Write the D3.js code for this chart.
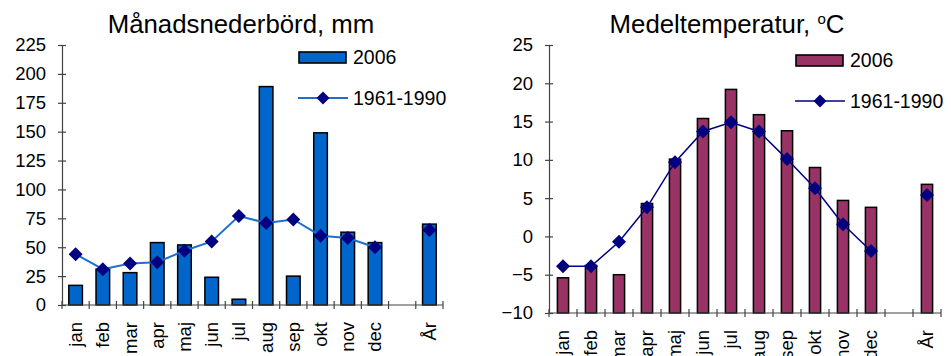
<!DOCTYPE html>
<html>
<head>
<meta charset="utf-8">
<script src="https://cdn.jsdelivr.net/npm/d3@7/dist/d3.min.js"></script>
<style>
  html, body { margin: 0; padding: 0; background: #fff; }
  svg { display: block; font-family: Arial, "Liberation Sans", sans-serif; }
</style>
</head>
<body>
<svg id="chart" width="951" height="356"></svg>
<script>
// Months plus a blank slot and the annual value ("År")
const categories = ["jan", "feb", "mar", "apr", "maj", "jun", "jul", "aug", "sep", "okt", "nov", "dec", "", "År"];

// Monthly precipitation, mm
const precip2006   = [17, 31, 28, 54, 52, 24, 5, 189, 25, 149, 63, 54, null, 70];
const precipNormal = [44, 31, 36, 37, 47, 55, 77, 71, 74, 60, 58, 50, null, 65];
const precipTicks  = [0, 25, 50, 75, 100, 125, 150, 175, 200, 225];

// Mean temperature, °C
const temp2006   = [-5.4, -3.8, -5.0, 4.3, 10.1, 15.4, 19.2, 15.9, 13.8, 9.0, 4.7, 3.8, null, 6.8];
const tempNormal = [-3.9, -3.9, -0.7, 3.8, 9.7, 13.7, 14.9, 13.7, 10.1, 6.3, 1.6, -1.9, null, 5.4];
const tempTicks  = [-10, -5, 0, 5, 10, 15, 20, 25];

const seriesNames = ["2006", "1961-1990"];

const svg = d3.select("#chart");

// Square diamond marker, half-diagonal r
function diamondPath(r) {
  return `M0,${-r}L${r},0L0,${r}L${-r},0Z`;
}

function drawPanel(opt) {
  const g = svg.append("g");
  const idx = d3.range(categories.length);

  const x = d3.scaleBand().domain(idx).range([opt.x0, opt.x1]).paddingInner(0).paddingOuter(0);
  const y = d3.scaleLinear().domain(opt.domain).range([opt.yBottom, opt.yTop]);
  const base = opt.domain[0];

  // Title
  const title = g.append("text")
    .attr("x", opt.titleX).attr("y", 33)
    .attr("text-anchor", "middle")
    .attr("font-size", 25.8)
    .attr("fill", "#000");
  title.append("tspan").text(opt.title);
  if (opt.titleSup) {
    title.append("tspan").attr("font-size", 15).attr("dy", -9).text(opt.titleSup);
    title.append("tspan").attr("dy", 9).text(opt.titleTail);
  }

  // Y axis with ticks crossing the axis line
  const yAxis = d3.axisLeft(y).tickValues(opt.ticks).tickSize(4).tickPadding(12);
  const ya = g.append("g").attr("transform", `translate(${opt.x0},0)`).call(yAxis);
  ya.select(".domain").attr("stroke", "#444").attr("stroke-width", 1.2);
  ya.selectAll(".tick line").attr("x1", 4).attr("stroke", "#444").attr("stroke-width", 1.2);
  ya.selectAll(".tick text")
    .attr("font-size", 18.5).attr("fill", "#000")
    .attr("font-family", "Arial, 'Liberation Sans', sans-serif");

  // Bars
  g.append("g").selectAll("rect")
    .data(idx.filter(i => opt.bars[i] != null))
    .join("rect")
    .attr("x", i => x(i) + (x.bandwidth() - x.bandwidth() * opt.barFrac) / 2)
    .attr("width", x.bandwidth() * opt.barFrac)
    .attr("y", i => y(opt.bars[i]))
    .attr("height", i => y(base) - y(opt.bars[i]))
    .attr("fill", opt.barColor)
    .attr("stroke", "#000")
    .attr("stroke-width", 1.5);

  // X axis with tick marks on category boundaries
  const xa = g.append("g");
  xa.append("line")
    .attr("x1", opt.x0).attr("x2", opt.x1)
    .attr("y1", y(base)).attr("y2", y(base))
    .attr("stroke", "#444").attr("stroke-width", 1.2);
  xa.selectAll("line.tk")
    .data(d3.range(categories.length + 1))
    .join("line").attr("class", "tk")
    .attr("x1", i => opt.x0 + i * x.step()).attr("x2", i => opt.x0 + i * x.step())
    .attr("y1", y(base) - 4).attr("y2", y(base) + 4)
    .attr("stroke", "#444").attr("stroke-width", 1.2);
  xa.selectAll("text")
    .data(idx)
    .join("text")
    .attr("transform", i => `translate(${x(i) + x.bandwidth() / 2},${y(base) + 17}) rotate(-90)`)
    .attr("text-anchor", "end")
    .attr("dy", "0.35em")
    .attr("font-size", 18.5)
    .attr("fill", "#000")
    .text(i => categories[i]);

  // Reference-period line with diamond markers
  const line = d3.line()
    .defined(i => opt.line[i] != null)
    .x(i => x(i) + x.bandwidth() / 2)
    .y(i => y(opt.line[i]));
  g.append("path")
    .datum(idx)
    .attr("d", line)
    .attr("fill", "none")
    .attr("stroke", opt.lineColor)
    .attr("stroke-width", opt.lineWidth);

  g.append("g").selectAll("path")
    .data(idx.filter(i => opt.line[i] != null))
    .join("path")
    .attr("transform", i => `translate(${x(i) + x.bandwidth() / 2},${y(opt.line[i])})`)
    .attr("d", diamondPath(7))
    .attr("fill", "#000080");

  // Legend
  const lg = g.append("g");
  lg.append("rect")
    .attr("x", opt.legX).attr("y", opt.legY)
    .attr("width", 47).attr("height", 11)
    .attr("fill", opt.barColor).attr("stroke", "#000").attr("stroke-width", 1.6);
  lg.append("text")
    .attr("x", opt.legX + 54).attr("y", opt.legY + 12)
    .attr("font-size", 19.5).attr("fill", "#000")
    .text(seriesNames[0]);
  lg.append("line")
    .attr("x1", opt.legX - 1).attr("x2", opt.legX + 49)
    .attr("y1", opt.legY + 46).attr("y2", opt.legY + 46)
    .attr("stroke", opt.lineColor).attr("stroke-width", opt.lineWidth);
  lg.append("path")
    .attr("transform", `translate(${opt.legX + 24},${opt.legY + 46})`)
    .attr("d", diamondPath(6.5)).attr("fill", "#000080");
  lg.append("text")
    .attr("x", opt.legX + 54).attr("y", opt.legY + 53)
    .attr("font-size", 19.5).attr("fill", "#000")
    .text(seriesNames[1]);
}

drawPanel({
  title: "Månadsnederbörd, mm",
  titleX: 241,
  x0: 62, x1: 443, yTop: 45, yBottom: 305,
  domain: [0, 225], ticks: precipTicks,
  bars: precip2006, line: precipNormal,
  barColor: "#0066CC", barFrac: 0.5,
  lineColor: "#1E6FD2", lineWidth: 2,
  legX: 299, legY: 52
});

drawPanel({
  title: "Medeltemperatur, ",
  titleSup: "o", titleTail: "C",
  titleX: 727,
  x0: 549, x1: 941, yTop: 45, yBottom: 313,
  domain: [-10, 25], ticks: tempTicks,
  bars: temp2006, line: tempNormal,
  barColor: "#993366", barFrac: 0.4,
  lineColor: "#000080", lineWidth: 1.5,
  legX: 796, legY: 55
});
</script>
</body>
</html>
